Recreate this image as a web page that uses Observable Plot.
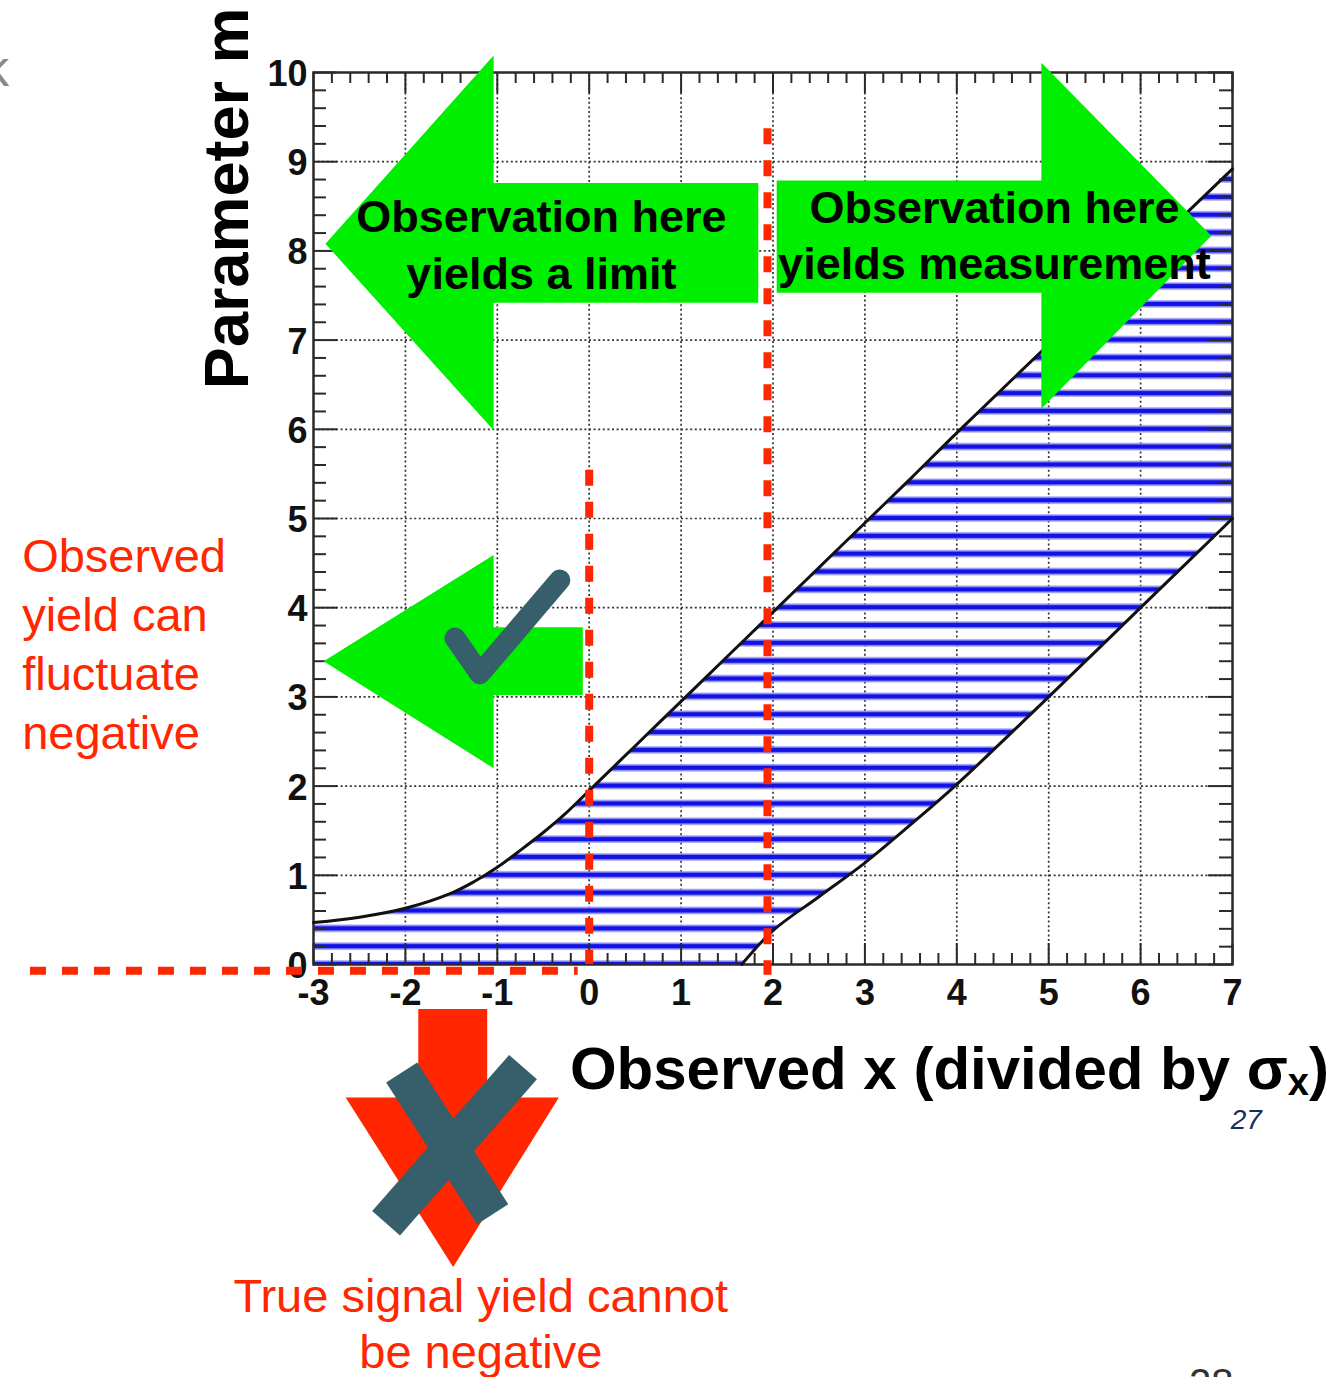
<!DOCTYPE html>
<html>
<head>
<meta charset="utf-8">
<script src="https://cdn.jsdelivr.net/npm/d3@7"></script>
<script src="https://cdn.jsdelivr.net/npm/@observablehq/plot@0.6"></script>
<style>
  html, body { margin: 0; padding: 0; background: #fff; }
  #chart svg { display: block; }
</style>
</head>
<body>
<div id="chart"></div>
<script>
// Confidence belt for a Gaussian measurement: observed x (in units of sigma_x) vs. parameter m
const beltX     = [-3, -2.5, -2, -1.5, -1.25, -1, -0.75, -0.5, -0.25, 0, 0.5, 1, 1.5, 1.66, 2, 2.5, 3, 3.5, 4, 5, 6, 7];
const beltUpper = [0.47, 0.53, 0.63, 0.8, 0.93, 1.09, 1.28, 1.48, 1.7, 1.95, 2.45, 2.95, 3.45, 3.61, 3.95, 4.45, 4.95, 5.45, 5.96, 6.95, 7.93, 8.92];
const beltLower = [0, 0, 0, 0, 0, 0, 0, 0, 0, 0, 0, 0, 0, 0, 0.38, 0.76, 1.14, 1.57, 2.02, 3.0, 4.0, 5.0];

// Axis ticks and labels
const xTicks = [-3, -2, -1, 0, 1, 2, 3, 4, 5, 6, 7];
const xTickLabels = ["-3", "-2", "-1", "0", "1", "2", "3", "4", "5", "6", "7"];
const yTicks = [0, 1, 2, 3, 4, 5, 6, 7, 8, 9, 10];
const yTickLabels = ["0", "1", "2", "3", "4", "5", "6", "7", "8", "9", "10"];
const hatchStep = 0.2;

// Reference cuts on the observable
const cutZero = 0;
const cutMeasure = 1.94;

// Texts
const xTitle = ["Observed x (divided by σ", "x", ")"];
const yTitle = "Parameter m";
const limitLines = ["Observation here", "yields a limit"];
const measureLines = ["Observation here", "yields measurement"];
const fluctuateLines = ["Observed", "yield can", "fluctuate", "negative"];
const physicalLines = ["True signal yield cannot", "be negative"];

// Annotation shapes (in axis units)
const limitArrow = [[-2.87, 8.08], [-1.04, 10.19], [-1.04, 8.76], [1.84, 8.76], [1.84, 7.42], [-1.04, 7.42], [-1.04, 5.99]];
const measureArrow = [[2.04, 8.79], [4.92, 8.79], [4.92, 10.11], [6.77, 8.17], [4.92, 6.23], [4.92, 7.53], [2.04, 7.53]];
const negativeArrow = [[-2.89, 3.40], [-1.04, 4.59], [-1.04, 3.78], [-0.07, 3.78], [-0.07, 3.02], [-1.04, 3.02], [-1.04, 2.20]];
const downArrow = [[-1.86, -0.50], [-1.11, -0.50], [-1.11, -1.49], [-0.33, -1.49], [-1.48, -3.39], [-2.65, -1.49], [-1.86, -1.49]];
const checkMark = [[-1.46, 3.66], [-1.19, 3.26], [-0.32, 4.31]];
const crossA = [[-2.04, -1.21], [-1.05, -2.80]];
const crossB = [[-0.72, -1.15], [-2.21, -2.90]];

const belt = beltX.map((x, i) => ({x, hi: beltUpper[i], lo: beltLower[i]}));
const lowerEdge = belt.filter(d => d.x >= 1.66);

const minorX = d3.range(0, 51).filter(i => i % 5 !== 0).map(i => -3 + i * 0.2);
const minorY = d3.range(0, 51).filter(i => i % 5 !== 0).map(i => i * 0.2);

const FONT = "'Liberation Sans', Arial, Helvetica, sans-serif";
const GREEN = "#00ef00";
const RED = "#ff2600";
const SLATE = "#365e6b";
const AXIS = "#2a2a2a";

const plot = Plot.plot({
  width: 1332,
  height: 1377,
  marginLeft: 313,
  marginRight: 100,
  marginTop: 72,
  marginBottom: 413,
  x: {domain: [-3, 7], axis: null},
  y: {domain: [0, 10], axis: null},
  style: {background: "#fff", fontFamily: FONT, overflow: "visible"},
  marks: [
    // dotted grid
    Plot.ruleX(xTicks.slice(1, -1), {y1: 0, y2: 10, stroke: "#333", strokeWidth: 1.7, strokeDasharray: "2,2.6"}),
    Plot.ruleY(yTicks.slice(1, -1), {x1: -3, x2: 7, stroke: "#333", strokeWidth: 1.7, strokeDasharray: "2,2.6"}),

    // hatched belt
    Plot.areaY(belt, {x: "x", y1: "lo", y2: "hi", fill: "url(#belt-hatch)", curve: "catmull-rom"}),

    // inward ticks on all four sides
    Plot.ruleX(minorX, {y1: 0, y2: 0, insetBottom: 11, stroke: AXIS, strokeWidth: 2}),
    Plot.ruleX(xTicks, {y1: 0, y2: 0, insetBottom: 21, stroke: AXIS, strokeWidth: 2}),
    Plot.ruleX(minorX, {y1: 10, y2: 10, insetBottom: -11, stroke: AXIS, strokeWidth: 2}),
    Plot.ruleX(xTicks, {y1: 10, y2: 10, insetBottom: -21, stroke: AXIS, strokeWidth: 2}),
    Plot.ruleY(minorY, {x1: -3, x2: -3, insetRight: -13, stroke: AXIS, strokeWidth: 2}),
    Plot.ruleY(yTicks, {x1: -3, x2: -3, insetRight: -24, stroke: AXIS, strokeWidth: 2}),
    Plot.ruleY(minorY, {x1: 7, x2: 7, insetLeft: -13, stroke: AXIS, strokeWidth: 2}),
    Plot.ruleY(yTicks, {x1: 7, x2: 7, insetLeft: -24, stroke: AXIS, strokeWidth: 2}),
    Plot.frame({stroke: AXIS, strokeWidth: 2.5}),

    // tick labels
    Plot.text(xTicks, {x: d => d, y: 0, text: (d, i) => xTickLabels[i], dy: 29, fontSize: 36, fontWeight: "bold", fill: "#111", fontFamily: FONT}),
    Plot.text(yTicks, {x: -3, y: d => d, text: (d, i) => yTickLabels[i], dx: -6, dy: 2, textAnchor: "end", fontSize: 36, fontWeight: "bold", fill: "#111", fontFamily: FONT}),

    // belt edges
    Plot.line(belt, {x: "x", y: "hi", stroke: "#111", strokeWidth: 3, curve: "catmull-rom"}),
    Plot.line(lowerEdge, {x: "x", y: "lo", stroke: "#111", strokeWidth: 3, curve: "catmull-rom"}),

    // dashed cuts
    Plot.ruleX([cutZero], {x: d => d, y1: 5.54, y2: 0, stroke: RED, strokeWidth: 8, strokeDasharray: "16,16"}),
    Plot.ruleX([cutMeasure], {x: d => d, y1: 9.37, y2: -0.12, stroke: RED, strokeWidth: 8, strokeDasharray: "16,16"}),
    Plot.ruleY([-0.07], {y: d => d, x1: -6.08, x2: -0.12, stroke: RED, strokeWidth: 8, strokeDasharray: "16,16"}),

    // green arrows
    Plot.line(limitArrow, {fill: GREEN, stroke: "none"}),
    Plot.line(measureArrow, {fill: GREEN, stroke: "none"}),
    Plot.line(negativeArrow, {fill: GREEN, stroke: "none"}),
    Plot.text([limitLines.join("\n")], {x: -0.52, y: 8.095, text: d => d, lineHeight: 1.25, fontSize: 45, fontWeight: "bold", fill: "#000", fontFamily: FONT}),
    Plot.text([measureLines.join("\n")], {x: 4.41, y: 8.2, text: d => d, lineHeight: 1.25, fontSize: 45, fontWeight: "bold", fill: "#000", fontFamily: FONT}),
    Plot.line(checkMark, {stroke: SLATE, strokeWidth: 21, strokeLinecap: "round", strokeLinejoin: "round"}),

    // red down arrow with cross
    Plot.line(downArrow, {fill: RED, stroke: "none"}),
    Plot.line(crossA, {stroke: SLATE, strokeWidth: 37, strokeLinecap: "butt"}),
    Plot.line(crossB, {stroke: SLATE, strokeWidth: 37, strokeLinecap: "butt"}),

    // notes
    Plot.text([fluctuateLines.join("\n")], {x: -6.17, y: 3.62, text: d => d, textAnchor: "start", lineHeight: 1.25, fontSize: 47, fill: RED, fontFamily: FONT}),
    Plot.text([physicalLines.join("\n")], {x: -1.18, y: -4.01, text: d => d, lineHeight: 1.19, fontSize: 47, fill: RED, fontFamily: FONT}),

    // axis titles
    Plot.text([xTitle.join("")], {x: -0.21, y: -1.18, text: d => d, textAnchor: "start", fontSize: 60, fontWeight: "bold", fill: "#000", fontFamily: FONT}),
    Plot.text([yTitle], {x: -3.93, y: 8.59, text: d => d, rotate: -90, fontSize: 63, fontWeight: "bold", fill: "#000", fontFamily: FONT}),

    // slide remnants
    Plot.text(["k"], {x: -6.31, y: 10.04, text: d => d, textAnchor: "end", fontSize: 52, fill: "#8a8a8a", fontFamily: FONT}),
    Plot.text(["27"], {x: 7.15, y: -1.74, text: d => d, fontSize: 28, fontStyle: "italic", fill: "#1b2b55", fontFamily: FONT}),
    Plot.text(["28"], {x: 6.77, y: -4.71, text: d => d, fontSize: 40, fill: "#333", fontFamily: FONT})
  ]
});

// Horizontal hatch pattern aligned to the y scale (one line every hatchStep)
const yScale = plot.scale("y");
const y0 = yScale.apply(0);
const step = Math.abs(yScale.apply(hatchStep) - y0);
const NS = "http://www.w3.org/2000/svg";
const defs = document.createElementNS(NS, "defs");
const pattern = document.createElementNS(NS, "pattern");
pattern.setAttribute("id", "belt-hatch");
pattern.setAttribute("patternUnits", "userSpaceOnUse");
pattern.setAttribute("x", 0);
pattern.setAttribute("y", y0 - step / 2);
pattern.setAttribute("width", 20);
pattern.setAttribute("height", step);
const halo = document.createElementNS(NS, "rect");
halo.setAttribute("x", 0); halo.setAttribute("width", 20);
halo.setAttribute("y", step / 2 - 3.6); halo.setAttribute("height", 7.2);
halo.setAttribute("fill", "#8c8cf3");
const core = document.createElementNS(NS, "rect");
core.setAttribute("x", 0); core.setAttribute("width", 20);
core.setAttribute("y", step / 2 - 2.1); core.setAttribute("height", 4.2);
core.setAttribute("fill", "#1212e4");
pattern.append(halo, core);
defs.append(pattern);
plot.insertBefore(defs, plot.firstChild);

// Subscript on sigma in the x title
for (const t of plot.querySelectorAll("text")) {
  if (t.textContent === xTitle.join("")) {
    t.textContent = "";
    const a = document.createElementNS(NS, "tspan");
    a.textContent = xTitle[0];
    const b = document.createElementNS(NS, "tspan");
    b.textContent = xTitle[1];
    b.setAttribute("font-size", "38");
    b.setAttribute("dy", "6");
    const c = document.createElementNS(NS, "tspan");
    c.textContent = xTitle[2];
    c.setAttribute("dy", "-6");
    t.append(a, b, c);
  }
}

document.getElementById("chart").append(plot);
</script>
</body>
</html>
